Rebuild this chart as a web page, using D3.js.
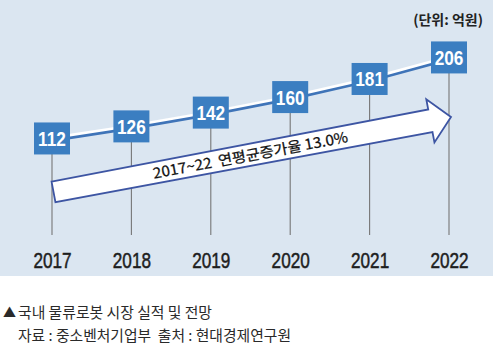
<!DOCTYPE html>
<html>
<head>
<meta charset="utf-8">
<script src="https://cdn.jsdelivr.net/npm/d3@7/dist/d3.min.js"></script>
<style>
  html, body { margin: 0; padding: 0; background: #ffffff; }
  svg { display: block; }
</style>
</head>
<body>
<svg id="chart" width="497" height="350"></svg>
<script>
// ---- data ----
const years = ["2017", "2018", "2019", "2020", "2021", "2022"];
const values = [112, 126, 142, 160, 181, 206];
const unitLabel = "(단위: 억원)";
const arrowLabel = "2017~22  연평균증가율 13.0%";
const arrowFromYear = "2017";
const arrowToYear = "2022";
const arrowValues = [50, 137];
const captionLines = ["국내 물류로봇 시장 실적 및 전망", "자료 : 중소벤처기업부  출처 : 현대경제연구원"];

// ---- layout ----
const panel = { w: 493, h: 276 };
const svg = d3.select("#chart");

const x = d3.scalePoint().domain(years).range([52, 449]);
const y = d3.scaleLinear().domain([0, 250]).range([235, 19.5]);

const data = years.map((yr, i) => ({ year: yr, value: values[i] }));

// background panel
svg.append("rect").attr("x", 0).attr("y", 0).attr("width", panel.w).attr("height", panel.h)
  .attr("fill", "#dbe6f1");

// vertical drop lines
svg.append("g").selectAll("line").data(data).join("line")
  .attr("x1", d => x(d.year)).attr("x2", d => x(d.year))
  .attr("y1", d => y(d.value)).attr("y2", y(0))
  .attr("stroke", "#767676").attr("stroke-width", 1.1);

// growth arrow
const p0 = [x(arrowFromYear) + 1.5, y(arrowValues[0])];
const p1 = [x(arrowToYear) + 2, y(arrowValues[1])];
const dx = p1[0] - p0[0], dy = p1[1] - p0[1];
const len = Math.hypot(dx, dy);
const u = [dx / len, dy / len];
const n = [u[1], -u[0]]; // points upward
const headLen = 21, headHalf = 22, shaftStart = 10.5, shaftEnd = 11.5;
const hb = [p1[0] - u[0] * headLen, p1[1] - u[1] * headLen];
const pt = (b, k) => [b[0] + n[0] * k, b[1] + n[1] * k];
const arrowPts = [
  pt(p0, shaftStart), pt(hb, shaftEnd), pt(hb, headHalf), p1,
  pt(hb, -headHalf), pt(hb, -shaftEnd), pt(p0, -shaftStart)
];
svg.append("path")
  .attr("d", d3.line()(arrowPts) + "Z")
  .attr("fill", "#ffffff").attr("stroke", "#3d55a3").attr("stroke-width", 1.8)
  .attr("stroke-linejoin", "miter");

const angle = Math.atan2(dy, dx) * 180 / Math.PI;
const mid = [(p0[0] + p1[0]) / 2 - 2, (p0[1] + p1[1]) / 2];
svg.append("text")
  .attr("transform", `translate(${mid[0]},${mid[1]}) rotate(${angle}) translate(0,6)`)
  .attr("text-anchor", "middle")
  .attr("font-family", "'Noto Sans CJK KR', sans-serif")
  .attr("font-size", 14.5).attr("fill", "#111")
  .attr("stroke", "#111").attr("stroke-width", 0.25)
  .attr("textLength", 198).attr("lengthAdjust", "spacingAndGlyphs")
  .style("white-space", "pre")
  .text(arrowLabel);

// connecting line (blue underside, white top)
const lineGen = d3.line().x(d => x(d.year)).y(d => y(d.value));
svg.append("path").datum(data).attr("d", lineGen)
  .attr("transform", "translate(0,1.2)")
  .attr("fill", "none").attr("stroke", "#3f74b8").attr("stroke-width", 4.5);
svg.append("path").datum(data).attr("d", lineGen)
  .attr("transform", "translate(0,-0.6)")
  .attr("fill", "none").attr("stroke", "#ffffff").attr("stroke-width", 2.6);

// value boxes
const bw = 36, bh = 32;
const boxes = svg.append("g").selectAll("g").data(data).join("g")
  .attr("transform", d => `translate(${x(d.year)},${y(d.value)})`);
boxes.append("rect")
  .attr("x", -bw / 2).attr("y", -bh / 2).attr("width", bw).attr("height", bh)
  .attr("fill", "#3b7ec1");
boxes.append("text")
  .attr("text-anchor", "middle")
  .attr("transform", "translate(0,7.5) scale(0.84,1)")
  .attr("font-family", "'Liberation Sans', Arial, sans-serif")
  .attr("font-weight", "bold").attr("font-size", 20.5).attr("fill", "#ffffff")
  .text(d => d.value);

// x axis labels
const xAxis = d3.axisBottom(x).tickSize(0).tickPadding(0);
const ax = svg.append("g").attr("transform", `translate(0,${y(0)})`).call(xAxis);
ax.select(".domain").remove();
ax.selectAll("text")
  .attr("y", null).attr("dy", null)
  .attr("transform", "translate(0,33) scale(0.78,1)")
  .attr("font-family", "'Liberation Sans', Arial, sans-serif")
  .attr("font-size", 22).attr("fill", "#1e1e1e")
  .attr("stroke", "#1e1e1e").attr("stroke-width", 0.5);

// unit label
svg.append("text")
  .attr("x", 483).attr("y", 25).attr("text-anchor", "end")
  .attr("font-family", "'Noto Sans CJK KR', sans-serif")
  .attr("font-weight", "bold").attr("font-size", 14).attr("fill", "#222")
  .text(unitLabel);

// caption
svg.append("text")
  .attr("x", 3).attr("y", 317)
  .attr("font-family", "'Noto Sans CJK KR', sans-serif")
  .attr("font-size", 13).attr("fill", "#2a2a2a")
  .text("▲");
const capLens = [194, 273];
svg.selectAll("text.cap").data(captionLines).join("text")
  .attr("class", "cap")
  .attr("x", 18).attr("y", (d, i) => 318 + i * 23)
  .attr("font-family", "'Noto Sans CJK KR', sans-serif")
  .attr("font-size", 15).attr("fill", "#2a2a2a")
  .attr("textLength", (d, i) => capLens[i]).attr("lengthAdjust", "spacingAndGlyphs")
  .style("white-space", "pre")
  .text(d => d);
</script>
</body>
</html>
